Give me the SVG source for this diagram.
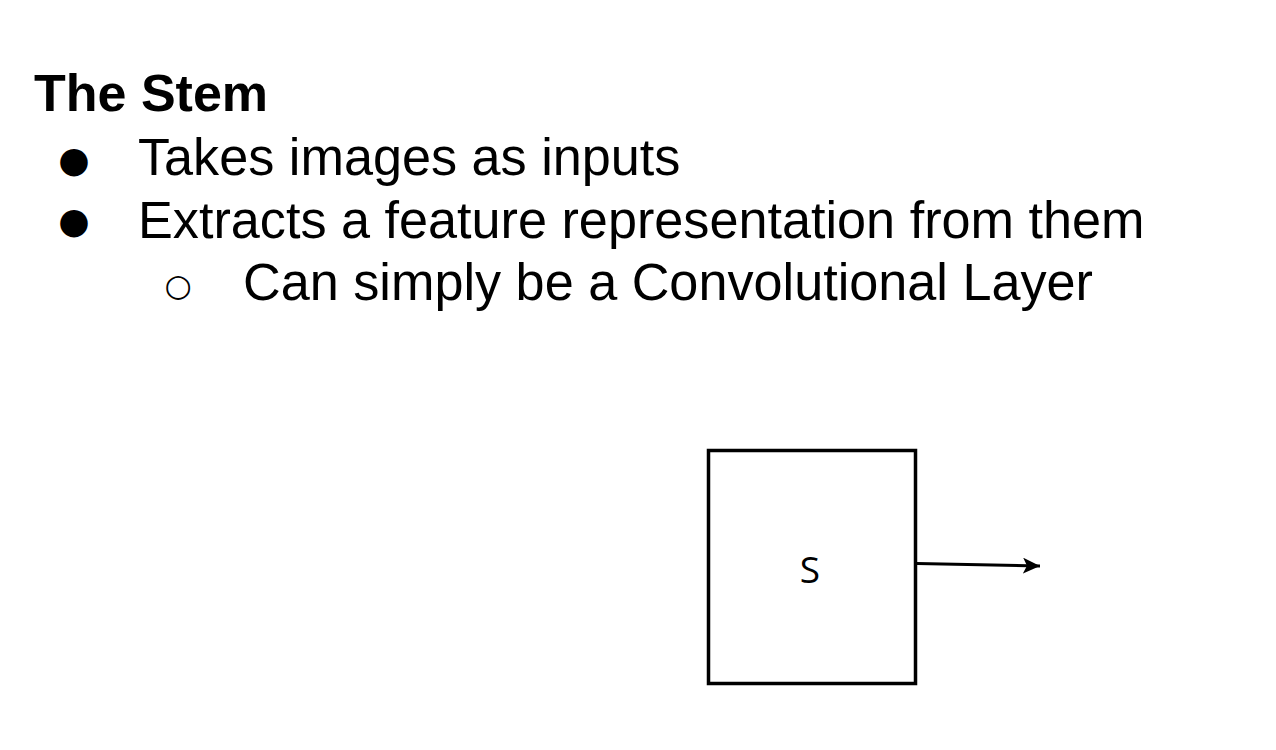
<svg xmlns="http://www.w3.org/2000/svg" width="1276" height="750" viewBox="0 0 1276 750">
<style>
.t{font-family:"Liberation Sans",Arial,sans-serif;font-size:52.2px;fill:#000}
.b{font-weight:bold;font-size:52px}
.bul{font-family:"DejaVu Sans","Liberation Sans",sans-serif;fill:#000}
.node{fill:#fff;stroke:#000;stroke-width:3.5}
.lbl{font-family:"Open Sans","Noto Sans",sans-serif;font-size:37px;fill:#000}
.conn{fill:none;stroke:#000;stroke-width:3}
</style>
<defs>
<marker id="arr" markerUnits="userSpaceOnUse" markerWidth="20" markerHeight="20" refX="17" refY="8" orient="auto">
<path d="M0,0 L17,8 L0,16 L4,8 Z" fill="#000"/>
</marker>
</defs>
<rect width="1276" height="750" fill="#fff"/>
<g id="text">
<text class="t b" x="34" y="111">The Stem</text>
<text class="bul" x="74" y="172" font-size="36" text-anchor="middle">●</text>
<text class="t" x="138" y="175">Takes images as inputs</text>
<text class="bul" x="74" y="233" font-size="36" text-anchor="middle">●</text>
<text class="t" x="138" y="238">Extracts a feature representation from them</text>
<text class="bul" x="178" y="296" font-size="31" text-anchor="middle">○</text>
<text class="t" x="243" y="300">Can simply be a Convolutional Layer</text>
</g>
<g id="node-s">
<rect class="node" x="708.5" y="450.5" width="207" height="233"/>
<text class="lbl" x="810" y="583" text-anchor="middle">S</text>
</g>
<g id="connectors">
<path class="conn" d="M917,563.5 L1040,566" marker-end="url(#arr)"/>
</g>
</svg>
